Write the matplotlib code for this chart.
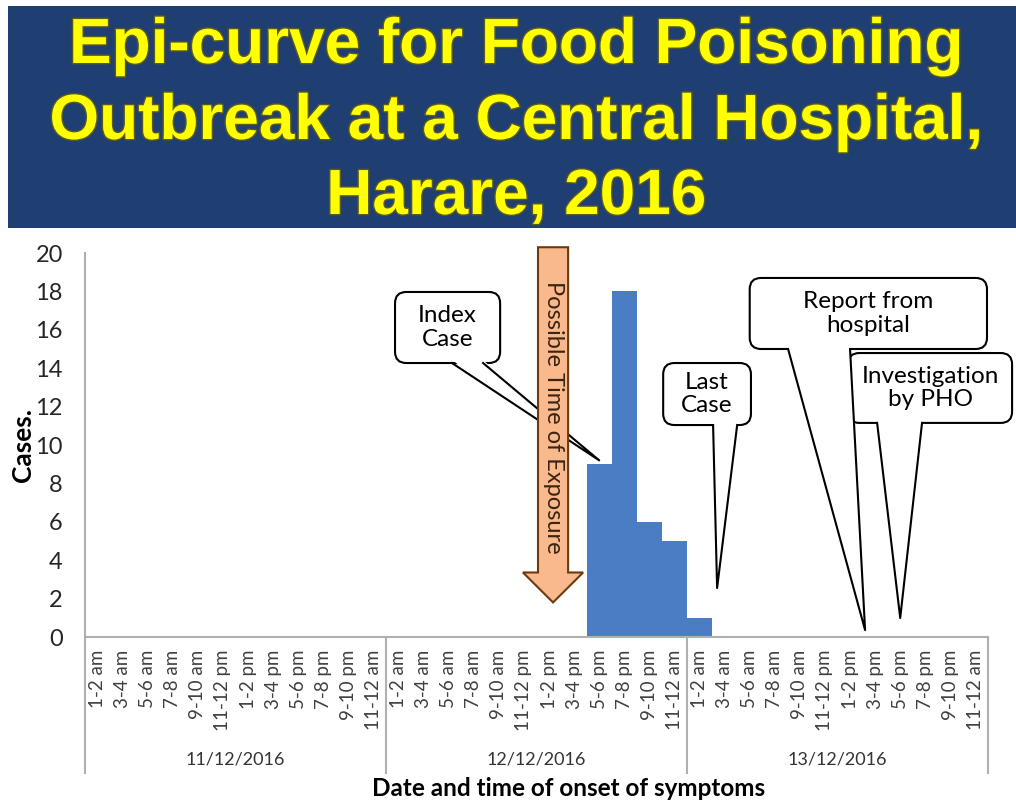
import numpy as np
import matplotlib.pyplot as plt
from matplotlib.patches import FancyBboxPatch, Polygon, FancyArrow, Rectangle
import matplotlib.patheffects as pe
import matplotlib.transforms as mtransforms

# data
days = ["11/12/2016", "12/12/2016", "13/12/2016"]
slots = ["1-2 am", "3-4 am", "5-6 am", "7-8 am", "9-10 am", "11-12 pm",
         "1-2 pm", "3-4 pm", "5-6 pm", "7-8 pm", "9-10 pm", "11-12 am"]
cases_day1 = [0] * 12
cases_day2 = [0, 0, 0, 0, 0, 0, 0, 0, 9, 18, 6, 5]
cases_day3 = [1, 0, 0, 0, 0, 0, 0, 0, 0, 0, 0, 0]

cases = cases_day1 + cases_day2 + cases_day3
labels = slots * len(days)
xpos = np.arange(len(cases))

plt.rcParams['font.family'] = ['Lato', 'DejaVu Sans']

fig = plt.figure(figsize=(10.16, 8.05), dpi=100)
fig.patch.set_facecolor('white')

# title banner
fig.patches.append(Rectangle((8 / 1016, 1 - 228 / 805), 1 - 8 / 1016, (228 - 6) / 805,
                             transform=fig.transFigure, facecolor='#1F3F73',
                             edgecolor='none', zorder=0))
title_lines = ["Epi-curve for Food Poisoning", "Outbreak at a Central Hospital,", "Harare, 2016"]
baselines = [63, 139, 214]
for line, yb in zip(title_lines, baselines):
    fig.text(0.508, 1 - yb / 805, line, ha='center', va='baseline',
             fontsize=46, fontweight='bold', color='#FFFF00',
             family=['Liberation Sans', 'DejaVu Sans'],
             path_effects=[pe.withStroke(linewidth=2, foreground='#5A5A20')])

ax = fig.add_axes([85 / 1016, 1 - 637 / 805, (988 - 85) / 1016, (637 - 253) / 805])
ax.bar(xpos, cases, width=1.0, color='#4A7DC4', edgecolor='none', zorder=2)

ax.set_xlim(-0.5, len(cases) - 0.5)
ax.set_ylim(0, 20)
ax.set_yticks(range(0, 21, 2))
ax.tick_params(axis='y', length=0, pad=16, labelsize=17, labelcolor='#262626')
ax.set_xticks(xpos)
ax.set_xticklabels(labels, rotation=90, fontsize=13.5, color='#404040')
ax.tick_params(axis='x', length=0, pad=9)
for s in ['top', 'right']:
    ax.spines[s].set_visible(False)
for s in ['left', 'bottom']:
    ax.spines[s].set_color('#B0B0B0')
    ax.spines[s].set_linewidth(1.5)

# day separators and day labels
trans = mtransforms.blended_transform_factory(ax.transData, ax.transAxes)
for d in range(len(days) + 1):
    xb = d * len(slots) - 0.5
    ax.plot([xb, xb], [0, -0.355], color='#B0B0B0', lw=1.5, transform=trans, clip_on=False)
for d, day in enumerate(days):
    ax.text(d * len(slots) + (len(slots) - 1) / 2, -0.32, day, transform=trans,
            ha='center', va='center', fontsize=13, color='#333333')

ax.set_ylabel("Cases.", fontsize=19, fontweight='bold')
ax.yaxis.set_label_coords(-0.055, 0.5)
ax.text(0.535, -0.395, "Date and time of onset of symptoms", transform=ax.transAxes,
        ha='center', va='center', fontsize=17.5, fontweight='bold')

# exposure arrow
arr = FancyArrow(18.16, 20.3, 0, -18.5, width=1.2, head_width=2.4, head_length=1.56,
                 length_includes_head=True, facecolor='#F9B98C', edgecolor='#6B3A10',
                 lw=1.5, zorder=8, clip_on=False)
ax.add_patch(arr)
ax.text(18.16, 11.45, "Possible Time of Exposure", rotation=-90, ha='center', va='center',
        fontsize=17, color='#3A2410', zorder=9)


def callout(box, base, tip, text):
    x0, x1, y0, y1 = box
    ax.add_patch(FancyBboxPatch((x0, y0), x1 - x0, y1 - y0,
                                boxstyle="round,pad=0,rounding_size=0.45",
                                mutation_aspect=25.08 / 19.2, facecolor='white',
                                edgecolor='black', lw=1.5, zorder=5, clip_on=False))
    ax.add_patch(Polygon([(base[0], y0 + 0.15), tip, (base[1], y0 + 0.15)],
                         closed=True, facecolor='white', edgecolor='none',
                         zorder=6, clip_on=False))
    ax.plot([base[0], tip[0], base[1]], [y0, tip[1], y0], color='black', lw=1.5,
            zorder=6, clip_on=False)
    ax.text((x0 + x1) / 2, (y0 + y1) / 2, text, ha='center', va='center',
            fontsize=17.5, color='black', linespacing=1.15, zorder=7)


callout((11.86, 16.05, 14.27, 17.97), (14.13, 15.37), (20.0, 9.2), "Index\nCase")
callout((22.55, 26.05, 11.04, 14.27), (24.54, 25.5), (24.7, 2.55), "Last\nCase")
callout((26.0, 35.46, 15.0, 18.7), (27.53, 30.0), (30.6, 0.36), "Report from\nhospital")
callout((29.92, 36.46, 11.15, 14.79), (31.08, 32.87), (32.0, 0.99), "Investigation\nby PHO")

fig.savefig("out.png", dpi=100)
